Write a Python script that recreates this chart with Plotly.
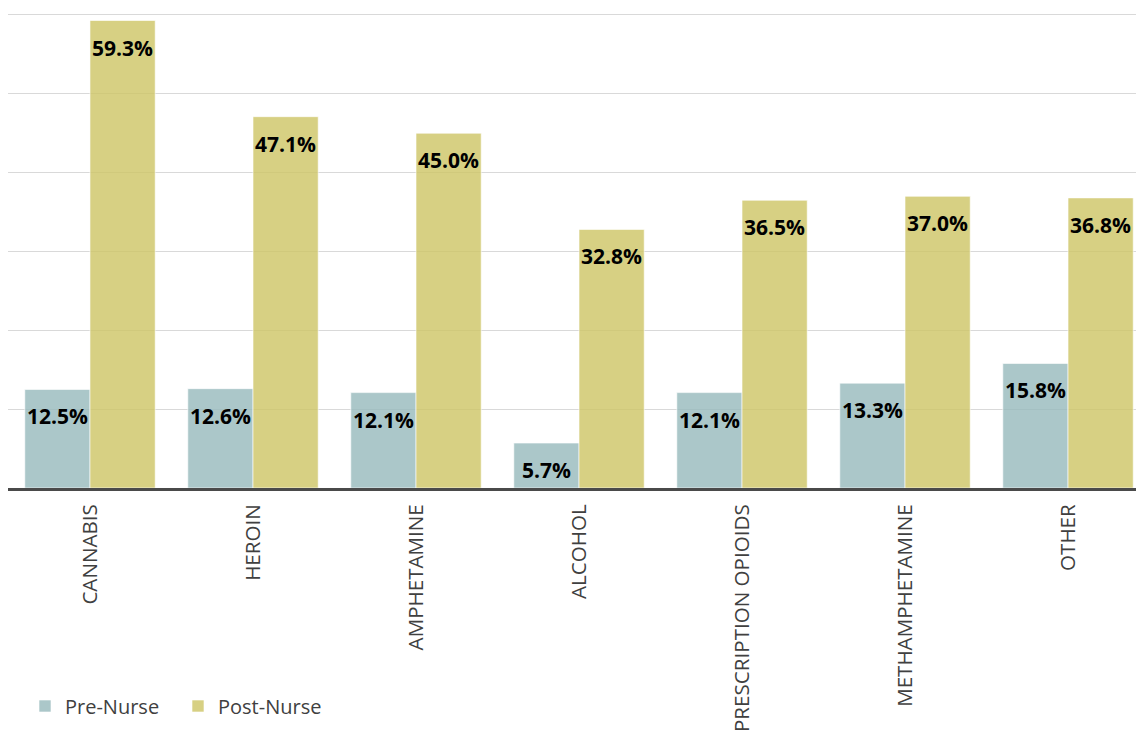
import plotly.graph_objects as go

categories = ["CANNABIS", "HEROIN", "AMPHETAMINE", "ALCOHOL",
              "PRESCRIPTION OPIOIDS", "METHAMPHETAMINE", "OTHER"]
pre_nurse = [12.5, 12.6, 12.1, 5.7, 12.1, 13.3, 15.8]
post_nurse = [59.3, 47.1, 45.0, 32.8, 36.5, 37.0, 36.8]

PRE_COLOR = "rgba(150,185,188,0.8)"
POST_COLOR = "rgba(205,196,100,0.8)"
FONT = "Open Sans"

W, H = 1136, 731

fig = go.Figure()
fig.add_trace(go.Bar(name="Pre-Nurse", x=categories, y=pre_nurse,
                     marker=dict(color=PRE_COLOR,
                                 line=dict(color="rgba(255,255,255,0.6)", width=1))))
fig.add_trace(go.Bar(name="Post-Nurse", x=categories, y=post_nurse,
                     marker=dict(color=POST_COLOR,
                                 line=dict(color="rgba(255,255,255,0.6)", width=1))))

annotations = []
for cat, a, b in zip(categories, pre_nurse, post_nurse):
    for val, shift in ((a, -32.6), (b, 32.6)):
        annotations.append(dict(x=cat, y=val, xref="x", yref="y",
                                text=f"{val:.1f}%", showarrow=False,
                                xshift=shift, yshift=-27, yanchor="middle",
                                font=dict(family=FONT, size=21, color="#000000",
                                          weight="bold")))

fig.update_layout(
    width=W, height=H,
    margin=dict(l=8, r=0, t=0, b=243, autoexpand=False),
    paper_bgcolor="white", plot_bgcolor="white",
    barmode="group", bargap=0.2, bargroupgap=0,
    annotations=annotations,
    showlegend=True,
    legend=dict(orientation="h", xref="container", yref="container",
                x=25 / W, y=1 - 706 / H, xanchor="left", yanchor="middle",
                font=dict(family=FONT, size=20, color="#404040"),
                entrywidth=108, entrywidthmode="pixels",
                bgcolor="rgba(0,0,0,0)"),
    xaxis=dict(range=[-0.503, 6.417], tickangle=-90, showgrid=False,
               showline=True, linecolor="#4a4a4a", linewidth=3,
               ticks="", ticklabelstandoff=5, automargin=False,
               tickfont=dict(family=FONT, size=20.6, color="#404040")),
    yaxis=dict(range=[0, 61.9], dtick=10, showticklabels=False,
               showgrid=True, gridcolor="#d9d9d9", gridwidth=1,
               zeroline=False, showline=False, automargin=False),
)

fig.write_html(
    "out.html",
    config={"displayModeBar": False},
    post_script="document.body.style.margin='0';document.body.style.overflow='hidden';",
)
